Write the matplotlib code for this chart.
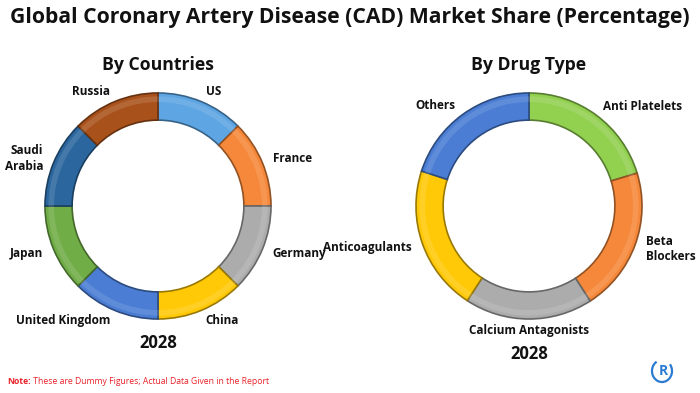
import numpy as np
import matplotlib
matplotlib.use("Agg")
import matplotlib.pyplot as plt
from matplotlib.patches import Arc

plt.rcParams["font.family"] = ["Open Sans", "DejaVu Sans"]

# ---------------------------------------------------------------------------
# Data
# ---------------------------------------------------------------------------

TITLE = "Global Coronary Artery Disease (CAD) Market Share (Percentage)"
YEAR = "2028"

country_labels = ["US", "France", "Germany", "China", "United Kingdom",
                  "Japan", "Saudi\nArabia", "Russia"]
country_share = [12.5, 12.5, 12.5, 12.5, 12.5, 12.5, 12.5, 12.5]
country_colors = ["#5da5e3", "#f5883a", "#acacac", "#ffc907", "#4a7dd3",
                  "#70ad47", "#2b679e", "#a9511b"]

drug_labels = ["Anti Platelets", "Beta\nBlockers", "Calcium Antagonists",
               "Anticoagulants", "Others"]
drug_share = [20.3, 20.6, 18.3, 20.8, 20.0]
drug_colors = ["#92d050", "#f5883a", "#acacac", "#ffc907", "#4a7dd3"]

W, H = 700, 393


def darker(c, f=0.6):
    rgb = np.array(matplotlib.colors.to_rgb(c))
    return tuple(rgb * f)


def donut(ax, values, labels, colors, center, radius, labeldist):
    wedges, texts = ax.pie(
        values, labels=labels, colors=colors, startangle=90, counterclock=False,
        center=center, radius=radius, labeldistance=labeldist,
        wedgeprops=dict(width=radius * 0.24, linewidth=1.2),
        textprops=dict(fontsize=8.5, fontweight="bold", color="#111111"),
    )
    for w, c in zip(wedges, colors):
        w.set_edgecolor(darker(c))
    # faint bevel highlight
    ax.pie(values, colors=["white"] * len(values), startangle=90,
           counterclock=False, center=center, radius=radius * 0.97,
           wedgeprops=dict(width=radius * 0.05, linewidth=0, alpha=0.12))
    for t in texts:
        t.set_linespacing(1.25)
        x, y = t.get_position()
        dx = x - center[0]
        t.set_verticalalignment("center")
        if abs(dx) < radius * 0.15:
            t.set_horizontalalignment("center")
        else:
            t.set_horizontalalignment("left" if dx > 0 else "right")
    return wedges, texts


fig = plt.figure(figsize=(7.0, 3.93), dpi=100)
ax = fig.add_axes([0, 0, 1, 1])

donut(ax, country_share, country_labels, country_colors,
      center=(158, H - 206), radius=113, labeldist=1.1)
donut(ax, drug_share, drug_labels, drug_colors,
      center=(529, H - 206), radius=113, labeldist=1.1)
ax.set_xlim(0, W)
ax.set_ylim(0, H)
ax.set_aspect("equal")
ax.axis("off")

ax.text(W / 2, H - 17, TITLE, ha="center", va="center",
        fontsize=15.2, fontweight="bold", color="#111111")
ax.text(158, H - 65, "By Countries", ha="center", va="center",
        fontsize=12.7, fontweight="bold", color="#111111")
ax.text(529, H - 65, "By Drug Type", ha="center", va="center",
        fontsize=12.7, fontweight="bold", color="#111111")
ax.text(158, H - 343, YEAR, ha="center", va="center",
        fontsize=12, fontweight="bold", color="#111111")
ax.text(529, H - 354, YEAR, ha="center", va="center",
        fontsize=12, fontweight="bold", color="#111111")

note = ax.text(7, H - 384, "Note:", ha="left", va="baseline",
               fontsize=6.2, fontweight="bold", color="#e8222a")
ax.annotate(" These are Dummy Figures; Actual Data Given in the Report",
            xycoords=note, xy=(1, 0), ha="left", va="bottom",
            fontsize=6.2, color="#e8222a")

# small logo mark
ax.add_patch(Arc((662, H - 371), 20, 22, theta1=120, theta2=400,
                 color="#2b7bd3", lw=1.6))
ax.text(663, H - 371, "R", ha="center", va="center", fontsize=10,
        color="#2b7bd3", fontweight="bold")

fig.savefig("out.png", dpi=100)
